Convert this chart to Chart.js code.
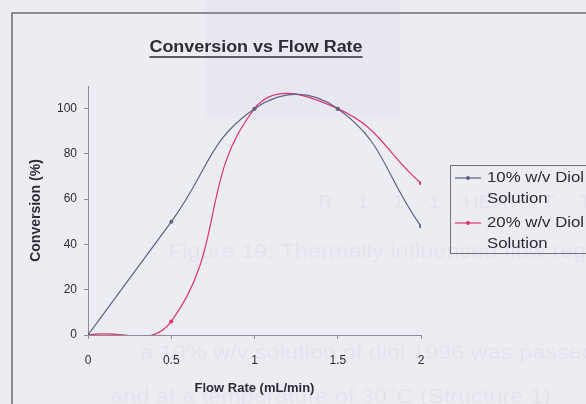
<!DOCTYPE html>
<html>
<head>
<meta charset="utf-8">
<script src="https://cdn.jsdelivr.net/npm/chart.js@4"></script>
<style>
  html, body { margin: 0; padding: 0; background: #ececf3; }
  #wrap { width: 586px; height: 404px; }
</style>
</head>
<body>
<div id="wrap"><canvas id="conversion-chart" width="586" height="404"></canvas></div>
<script>
// flow rate (mL/min) vs conversion (%) for the two diol concentrations
var flowRates = [0, 0.5, 1, 1.5, 2];
var conv10 = [0, 50, 100, 100, 48];
var conv20 = [0, 6, 100, 100, 67];
var seriesNames = [['10% w/v Diol', 'Solution'], ['20% w/v Diol', 'Solution']];
var xTicks = [0, 0.5, 1, 1.5, 2];
var yTicks = [0, 20, 40, 60, 80, 100];

var FONT = '"Liberation Sans", Arial, sans-serif';
var COL_10 = '#5e6285';
var COL_20 = '#e2326e';
var AXIS_COL = '#8c8c9a';
var TEXT_COL = '#2c2c34';
var STRETCH = 1.12;

Chart.defaults.font.family = FONT;

function toPoints(ys) {
    return flowRates.map(function(x, i) {
        return { x: x, y: ys[i] };
    });
}

// text drawn slightly wider, like the rest of the page
function wideText(ctx, text, x, y, align) {
    var w = ctx.measureText(text).width * STRETCH;
    var left = align === 'center' ? x - w / 2 : x;
    ctx.save();
    ctx.translate(left, y);
    ctx.scale(STRETCH, 1);
    ctx.textAlign = 'left';
    ctx.fillText(text, 0, 0);
    ctx.restore();
    return { left: left, width: w };
}

var pagePlugin = {
    id: 'page',
    beforeDraw: function(chart) {
        var ctx = chart.ctx;
        ctx.save();
        ctx.fillStyle = '#ececf3';
        ctx.fillRect(0, 0, chart.width, chart.height);

        // faint print showing through from the other side of the sheet
        ctx.fillStyle = 'rgba(60, 60, 90, 0.018)';
        ctx.fillRect(205, 0, 195, 118);
        ctx.fillStyle = 'rgba(110, 110, 135, 0.065)';
        ctx.textBaseline = 'middle';
        ctx.font = '19px ' + FONT;
        wideText(ctx, 'R    1    1    1    HEAT    T    T    1    T', 318, 203, 'left');
        ctx.font = '21px ' + FONT;
        wideText(ctx, 'Figure 19: Thermally influenced flow regime', 168, 252, 'left');
        wideText(ctx, 'a 10% w/v solution of diol 1996 was passed', 140, 353, 'left');
        wideText(ctx, 'and at a temperature of 30\u00b0C (Structure 1)', 110, 397, 'left');

        // chart frame
        ctx.strokeStyle = '#6c6c76';
        ctx.lineWidth = 1.5;
        ctx.beginPath();
        ctx.moveTo(12, chart.height + 2);
        ctx.lineTo(12, 13);
        ctx.lineTo(chart.width + 2, 13);
        ctx.stroke();
        ctx.restore();
    },
    afterDraw: function(chart) {
        var ctx = chart.ctx;
        ctx.save();
        ctx.fillStyle = TEXT_COL;
        ctx.textBaseline = 'middle';

        // underlined title
        ctx.font = 'bold 16px ' + FONT;
        var t = wideText(ctx, 'Conversion vs Flow Rate', 256, 48, 'center');
        ctx.strokeStyle = TEXT_COL;
        ctx.lineWidth = 1.3;
        ctx.beginPath();
        ctx.moveTo(t.left, 57);
        ctx.lineTo(t.left + t.width, 57);
        ctx.stroke();

        // legend box
        ctx.strokeStyle = '#707078';
        ctx.lineWidth = 1;
        ctx.strokeRect(450.5, 165.5, 200, 88);
        var colors = [COL_10, COL_20];
        var rows = [178, 223];
        ctx.font = '15px ' + FONT;
        seriesNames.forEach(function(lines, i) {
            var y = rows[i];
            ctx.strokeStyle = colors[i];
            ctx.lineWidth = 1.2;
            ctx.beginPath();
            ctx.moveTo(455, y);
            ctx.lineTo(481, y);
            ctx.stroke();
            ctx.fillStyle = colors[i];
            ctx.beginPath();
            ctx.arc(468, y, 2, 0, Math.PI * 2);
            ctx.fill();
            ctx.fillStyle = TEXT_COL;
            lines.forEach(function(line, j) {
                wideText(ctx, line, 487, y + j * 21, 'left');
            });
        });
        ctx.restore();
    }
};

var lineStyle = {
    borderWidth: 1.2,
    pointRadius: 2,
    pointBorderWidth: 0,
    pointHoverRadius: 2,
    tension: 0.45,
    fill: false
};

new Chart(document.getElementById('conversion-chart'), {
    type: 'line',
    data: {
        datasets: [
            Object.assign({
                label: seriesNames[0].join(' '),
                data: toPoints(conv10),
                borderColor: COL_10,
                backgroundColor: COL_10
            }, lineStyle),
            Object.assign({
                label: seriesNames[1].join(' '),
                data: toPoints(conv20),
                borderColor: COL_20,
                backgroundColor: COL_20
            }, lineStyle)
        ]
    },
    options: {
        responsive: false,
        animation: false,
        events: [],
        layout: {
            padding: { left: 0, top: 86, right: 165, bottom: 0 }
        },
        elements: {
            line: { capBezierPoints: false }
        },
        plugins: {
            legend: { display: false },
            title: { display: false },
            tooltip: { enabled: false }
        },
        scales: {
            x: {
                type: 'linear',
                min: 0,
                max: 2,
                afterBuildTicks: function(axis) {
                    axis.ticks = xTicks.map(function(v) { return { value: v }; });
                },
                afterFit: function(axis) { axis.height = 69; },
                grid: {
                    drawOnChartArea: false,
                    drawTicks: true,
                    tickLength: 4,
                    color: AXIS_COL
                },
                border: { color: AXIS_COL, width: 1 },
                ticks: {
                    padding: 14,
                    maxRotation: 0,
                    color: TEXT_COL,
                    font: { size: 12 },
                    callback: function(value) { return String(value); }
                },
                title: {
                    display: true,
                    text: 'Flow Rate (mL/min)',
                    color: TEXT_COL,
                    font: { size: 13, weight: 'bold' },
                    padding: { top: 0, bottom: 8 }
                }
            },
            y: {
                min: 0,
                max: 110,
                afterBuildTicks: function(axis) {
                    axis.ticks = yTicks.map(function(v) { return { value: v }; });
                },
                afterFit: function(axis) { axis.width = 88; },
                grid: {
                    drawOnChartArea: false,
                    drawTicks: true,
                    tickLength: 4,
                    color: AXIS_COL
                },
                border: { color: AXIS_COL, width: 1 },
                ticks: {
                    padding: 7,
                    color: TEXT_COL,
                    font: { size: 12 },
                    callback: function(value) { return String(value); }
                },
                title: {
                    display: true,
                    text: 'Conversion (%)',
                    color: TEXT_COL,
                    font: { size: 14, weight: 'bold' },
                    padding: { top: 28, bottom: 0 }
                }
            }
        }
    },
    plugins: [pagePlugin]
});
</script>
</body>
</html>
